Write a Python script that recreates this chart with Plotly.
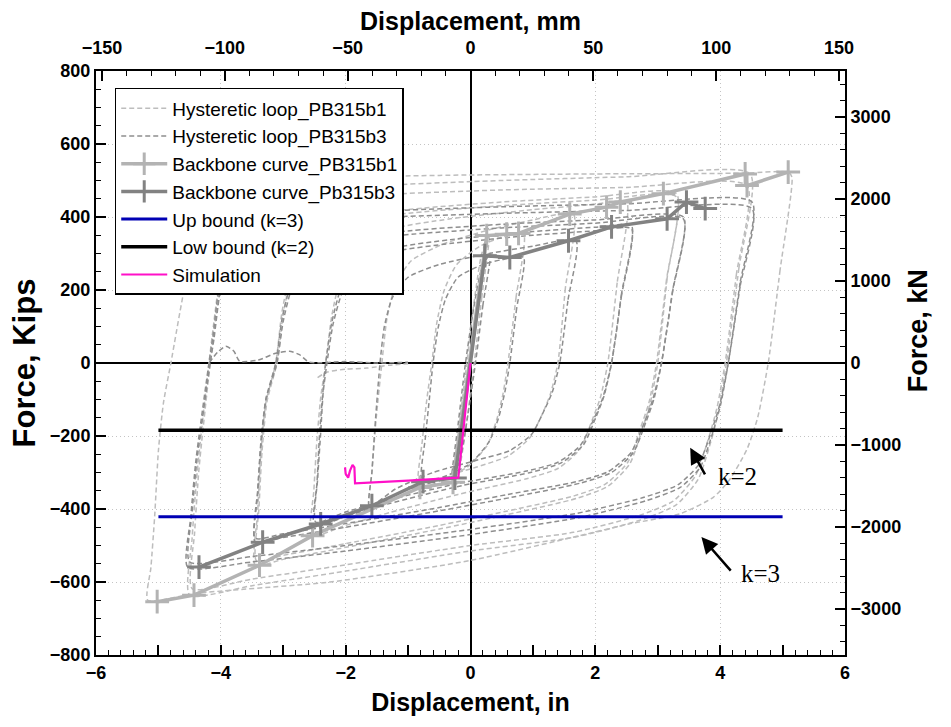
import plotly.graph_objects as go

# ---------------- data (displacement in inches, force in kips) ----------------
# Hysteretic loops, specimen PB315b1: each loop is a list of (disp, force) pairs
LOOP_B1_1 = [(0.30, 349), (0.18, 180), (0.06, 0), (-0.06, -160), (-0.18, -290), (-0.28, -327),
             (-0.18, -170), (-0.06, 0), (0.06, 170), (0.18, 300), (0.30, 349)]
LOOP_B1_2 = [(0.85, 355), (0.73, 180), (0.60, 0), (0.52, -85), (0.42, -155), (0.27, -225), (-0.05, -285),
             (-0.45, -320), (-0.83, -345), (-0.77, -210), (-0.70, -100), (-0.62, 0), (-0.54, 110),
             (-0.42, 200), (-0.22, 270), (0.15, 320), (0.50, 345), (0.85, 355)]
LOOP_B1_3 = [(1.65, 408), (1.52, 205), (1.40, 0), (1.28, -85), (1.15, -140), (0.95, -205), (0.60, -255),
             (0.10, -285), (-0.60, -320), (-1.20, -360), (-1.62, -400), (-1.58, -300), (-1.51, -150),
             (-1.42, 0), (-1.34, 120), (-1.20, 215), (-0.95, 280), (-0.45, 325), (0.30, 365),
             (1.00, 392), (1.65, 408)]
LOOP_B1_4 = [(2.50, 441), (2.35, 220), (2.20, 0), (2.08, -95), (1.95, -156), (1.75, -237), (1.40, -289),
             (0.90, -317), (-0.20, -360), (-1.30, -410), (-2.00, -445), (-2.55, -473), (-2.51, -350),
             (-2.46, -210), (-2.40, -95), (-2.32, 0), (-2.22, 132), (-2.07, 240), (-1.82, 315),
             (-1.32, 365), (-0.32, 395), (1.00, 420), (2.00, 435), (2.50, 441)]
LOOP_B1_5 = [(3.30, 464), (3.15, 232), (3.00, 0), (2.88, -110), (2.75, -183), (2.55, -277), (2.20, -338),
             (1.70, -371), (0.60, -415), (-0.50, -455), (-2.00, -505), (-3.00, -538), (-3.45, -554),
             (-3.41, -410), (-3.36, -250), (-3.28, -110), (-3.12, 0), (-3.02, 140), (-2.87, 255),
             (-2.62, 335), (-2.12, 385), (-1.12, 418), (0.50, 441), (2.00, 455), (3.30, 464)]
LOOP_B1_5B = [(3.30, 455), (3.14, 228), (2.98, 0), (2.86, -108), (2.72, -180), (2.52, -272), (2.16, -332),
              (1.66, -364), (0.55, -407), (-0.50, -445), (-2.00, -495), (-3.00, -527), (-3.43, -542),
              (-3.39, -400), (-3.34, -242), (-3.26, -105), (-3.10, 0), (-3.00, 135), (-2.85, 248),
              (-2.60, 326), (-2.10, 375), (-1.10, 408), (0.50, 431), (2.00, 446), (3.30, 455)]
LOOP_B1_6 = [(4.48, 518), (4.30, 260), (4.10, 0), (3.98, -127), (3.86, -210), (3.65, -318), (3.30, -388),
             (2.80, -426), (1.70, -476), (0.00, -515), (-2.00, -570), (-3.50, -610), (-4.50, -636),
             (-4.46, -480), (-4.38, -300), (-4.19, 0), (-4.12, 100), (-4.00, 250), (-3.82, 350),
             (-3.50, 415), (-3.00, 455), (-1.50, 485), (0.50, 500), (2.50, 510), (4.48, 518)]
LOOP_B1_6B = [(4.43, 486), (4.26, 243), (4.08, 0), (3.95, -122), (3.82, -203), (3.60, -310), (3.25, -378),
              (2.75, -415), (1.65, -464), (0.00, -500), (-2.00, -553), (-3.50, -592), (-4.46, -618),
              (-4.42, -465), (-4.35, -290), (-4.17, 0), (-4.10, 95), (-3.98, 236), (-3.80, 330),
              (-3.48, 392), (-3.00, 430), (-1.50, 460), (0.50, 474), (2.50, 481), (4.43, 486)]
LOOP_B1_7 = [(5.15, 509), (4.96, 255), (4.77, 0), (4.60, -150), (4.43, -236), (4.15, -320), (3.89, -368),
             (3.36, -413), (2.54, -441), (1.75, -473), (0.00, -541), (-2.25, -600), (-4.40, -631),
             (-5.17, -650), (-5.12, -560), (-5.06, -420), (-5.00, -240), (-4.92, -110), (-4.80, 0),
             (-4.56, 223), (-4.35, 340), (-4.00, 430), (-3.50, 480), (-2.50, 505), (-0.50, 514),
             (2.00, 518), (4.40, 520), (5.09, 523), (5.15, 509)]
LOOP_B1_TAIL = [(-2.45, -40), (-2.30, -25), (-2.00, -17), (-1.66, -14), (-1.30, -6), (-1.00, -2)]

# Hysteretic loops, specimen PB315b3
LOOP_B3_1 = [(0.32, 300), (0.20, 160), (0.08, 0), (-0.04, -140), (-0.16, -260), (-0.30, -318),
             (-0.20, -170), (-0.08, 0), (0.05, 150), (0.18, 260), (0.32, 300)]
LOOP_B3_2 = [(0.85, 290), (0.74, 150), (0.63, 0), (0.55, -80), (0.45, -150), (0.30, -215), (0.00, -275),
             (-0.40, -310), (-0.78, -333), (-0.72, -200), (-0.66, -100), (-0.60, 0), (-0.52, 95),
             (-0.40, 175), (-0.20, 235), (0.20, 270), (0.50, 283), (0.85, 290)]
LOOP_B3_3 = [(1.69, 335), (1.56, 170), (1.43, 0), (1.31, -80), (1.18, -130), (0.98, -195), (0.63, -240),
             (0.13, -265), (-0.60, -300), (-1.20, -345), (-1.62, -393), (-1.58, -300), (-1.52, -150),
             (-1.45, 0), (-1.38, 100), (-1.25, 180), (-1.00, 235), (-0.50, 270), (0.30, 300),
             (1.00, 320), (1.69, 335)]
LOOP_B3_4 = [(2.58, 376), (2.42, 190), (2.26, 0), (2.14, -90), (2.01, -148), (1.81, -224), (1.46, -273),
             (0.96, -300), (-0.14, -336), (-1.30, -385), (-2.00, -420), (-2.50, -448), (-2.46, -330),
             (-2.42, -200), (-2.37, -90), (-2.32, 0), (-2.22, 113), (-2.07, 207), (-1.82, 270),
             (-1.32, 312), (-0.32, 338), (1.00, 360), (2.00, 372), (2.58, 376)]
LOOP_B3_4B = [(2.58, 368), (2.42, 185), (2.26, 0), (2.12, -95), (1.98, -152), (1.76, -226), (1.40, -272),
              (0.90, -296), (-0.20, -330), (-1.30, -375), (-2.00, -408), (-2.48, -436), (-2.45, -320),
              (-2.40, -190), (-2.36, -80), (-2.30, 0), (-2.20, 108), (-2.04, 200), (-1.78, 262),
              (-1.28, 303), (-0.30, 328), (1.00, 350), (2.00, 362), (2.58, 368)]
LOOP_B3_5 = [(3.41, 400), (3.24, 200), (3.06, 0), (2.94, -98), (2.81, -162), (2.61, -245), (2.26, -300),
             (1.76, -329), (0.66, -368), (-0.50, -405), (-2.00, -450), (-3.00, -478), (-3.45, -491),
             (-3.41, -360), (-3.36, -220), (-3.28, -100), (-3.12, 0), (-3.02, 120), (-2.87, 220),
             (-2.62, 288), (-2.12, 332), (-1.12, 360), (0.50, 380), (2.00, 392), (3.41, 400)]
LOOP_B3_5B = [(3.41, 395), (3.24, 198), (3.06, 0), (2.92, -100), (2.78, -165), (2.57, -246), (2.20, -298),
              (1.70, -325), (0.60, -360), (-0.50, -396), (-2.00, -440), (-3.00, -468), (-3.45, -480),
              (-3.41, -350), (-3.35, -210), (-3.27, -95), (-3.10, 0), (-3.00, 115), (-2.85, 212),
              (-2.60, 280), (-2.10, 322), (-1.10, 350), (0.50, 370), (2.00, 383), (3.41, 395)]
LOOP_B3_6 = [(4.51, 441), (4.32, 220), (4.13, 0), (4.01, -112), (3.89, -186), (3.68, -286), (3.36, -341),
             (2.82, -377), (1.75, -423), (0.00, -470), (-2.00, -515), (-3.50, -545), (-4.53, -560),
             (-4.48, -420), (-4.40, -268), (-4.19, 0), (-4.13, 68), (-4.02, 214), (-3.85, 300),
             (-3.55, 355), (-3.00, 392), (-1.50, 415), (0.50, 428), (2.50, 436), (4.51, 441)]
LOOP_B3_6B = [(4.51, 423), (4.32, 210), (4.13, 0), (4.00, -110), (3.87, -182), (3.65, -280), (3.32, -334),
              (2.78, -368), (1.70, -412), (0.00, -456), (-2.00, -500), (-3.50, -530), (-4.50, -545),
              (-4.46, -410), (-4.38, -260), (-4.17, 0), (-4.11, 66), (-4.00, 206), (-3.83, 290),
              (-3.52, 342), (-3.00, 376), (-1.50, 398), (0.50, 410), (2.50, 418), (4.51, 423)]
LOOP_B3_TAIL = [(-4.19, 0), (-4.05, 30), (-3.92, 46), (-3.79, 32), (-3.70, 5), (-3.40, 8), (-3.12, 27),
                (-2.90, 32), (-2.74, 23), (-2.58, 2), (-2.00, 4), (-1.50, 0), (-1.00, 2)]

B1_LOOPS = [LOOP_B1_1, LOOP_B1_2, LOOP_B1_3, LOOP_B1_4, LOOP_B1_5, LOOP_B1_5B,
            LOOP_B1_6, LOOP_B1_6B, LOOP_B1_7, LOOP_B1_TAIL]
B3_LOOPS = [LOOP_B3_1, LOOP_B3_2, LOOP_B3_3, LOOP_B3_4, LOOP_B3_4B, LOOP_B3_5,
            LOOP_B3_5B, LOOP_B3_6, LOOP_B3_6B, LOOP_B3_TAIL]

# Backbone curves
BB_B1_X = [-5.02, -4.43, -3.38, -2.53, -0.81, -0.28, 0.26, 0.58, 0.77, 1.59, 2.18, 2.40, 3.09, 4.40, 4.43, 5.09]
BB_B1_F = [-654, -636, -554, -473, -341, -327, 349, 353, 355, 408, 427, 441, 464, 518, 486, 523]
BB_B3_X = [-4.35, -3.33, -2.40, -1.58, -0.76, -0.25, 0.23, 0.63, 1.57, 2.26, 3.15, 3.46, 3.76]
BB_B3_F = [-559, -491, -441, -391, -325, -315, 294, 289, 335, 373, 395, 441, 423]

# Strength bounds
BOUND_X = [-5.0, 5.0]
UP_BOUND_K3 = -421
LOW_BOUND_K2 = -184

# Simulation
SIM_X = [0.0, -0.195, -1.00, -1.85, -1.86, -1.89, -1.93, -1.96, -2.00, -2.01]
SIM_F = [0, -314, -322, -330, -286, -279, -295, -314, -304, -286]

# Axis ticks
X_IN_LABELS = [-6, -4, -2, 0, 2, 4, 6]
X_IN_ODD = [-5, -3, -1, 1, 3, 5]
Y_KIPS_TICKS = [-800, -600, -400, -200, 0, 200, 400, 600, 800]
X_MM_TICKS = [-150, -100, -50, 0, 50, 100, 150]
Y_KN_TICKS = [-3000, -2000, -1000, 0, 1000, 2000, 3000]
IN_TO_MM = 25.4
KIP_TO_KN = 4.44822

# ---------------- styling ----------------
LIGHT_LOOP = "#bdbdbd"
DARK_LOOP = "#8e8e8e"
LIGHT_BB = "#b3b3b3"
DARK_BB = "#828282"
GRID = "#c4c4c4"
FONT = "Liberation Sans, Arial, sans-serif"

fig = go.Figure()


def add_loops(loops, color, name):
    for i, loop in enumerate(loops):
        fig.add_trace(go.Scatter(
            x=[p[0] for p in loop], y=[p[1] for p in loop], mode="lines",
            line=dict(color=color, width=1.5, dash="5px,3px", shape="spline", smoothing=0.6),
            name=name, legendgroup=name, showlegend=(i == 0), hoverinfo="skip"))


add_loops(B1_LOOPS, LIGHT_LOOP, "Hysteretic loop_PB315b1")
add_loops(B3_LOOPS, DARK_LOOP, "Hysteretic loop_PB315b3")

fig.add_trace(go.Scatter(
    x=BB_B1_X, y=BB_B1_F, mode="lines+markers", name="Backbone curve_PB315b1",
    line=dict(color=LIGHT_BB, width=3.5),
    marker=dict(symbol="cross-thin", size=17, line=dict(color=LIGHT_BB, width=3))))
fig.add_trace(go.Scatter(
    x=BB_B3_X, y=BB_B3_F, mode="lines+markers", name="Backbone curve_Pb315b3",
    line=dict(color=DARK_BB, width=3.5),
    marker=dict(symbol="cross-thin", size=17, line=dict(color=DARK_BB, width=3))))

fig.add_trace(go.Scatter(
    x=BOUND_X, y=[UP_BOUND_K3] * len(BOUND_X), mode="lines", name="Up bound (k=3)",
    line=dict(color="#0000b4", width=3)))
fig.add_trace(go.Scatter(
    x=BOUND_X, y=[LOW_BOUND_K2] * len(BOUND_X), mode="lines", name="Low bound (k=2)",
    line=dict(color="#000000", width=3.5)))
fig.add_trace(go.Scatter(
    x=SIM_X, y=SIM_F, mode="lines", name="Simulation",
    line=dict(color="#ff10c8", width=2.2)))

# empty traces so the secondary scales are instantiated
fig.add_trace(go.Scatter(x=[None], y=[None], xaxis="x2", yaxis="y2", showlegend=False, hoverinfo="skip"))
fig.add_trace(go.Scatter(x=[None], y=[None], xaxis="x3", yaxis="y", showlegend=False, hoverinfo="skip"))

tickfont = dict(family=FONT, size=18, color="black", weight="bold")
titlefont = dict(family=FONT, size=25, color="black", weight="bold")
minor_common = dict(ticks="inside", ticklen=5, tickwidth=1.2, tickcolor="black", showgrid=False)

fig.update_layout(
    template="none",
    width=951, height=727,
    margin=dict(l=96, r=106, t=71, b=72),
    paper_bgcolor="white", plot_bgcolor="white",
    font=dict(family=FONT, color="black"),
    showlegend=True,
    legend=dict(x=0.025, y=0.971, xanchor="left", yanchor="top",
                bgcolor="white", bordercolor="black", borderwidth=1.5,
                font=dict(family=FONT, size=19, color="black"),
                itemwidth=46, tracegroupgap=0),
    xaxis=dict(range=[-6, 6], tickmode="array", tickvals=X_IN_LABELS,
               ticks="inside", ticklen=10, tickwidth=1.5, tickcolor="black",
               minor=dict(dtick=0.2, **minor_common),
               showline=True, linewidth=2, linecolor="black",
               showgrid=True, gridcolor=GRID, griddash="1px,3px", gridwidth=1,
               zeroline=True, zerolinecolor="black", zerolinewidth=1.5,
               tickfont=tickfont,
               title=dict(text="Displacement, in", font=titlefont, standoff=12)),
    xaxis3=dict(range=[-6, 6], overlaying="x", anchor="y", side="bottom",
                tickmode="array", tickvals=X_IN_ODD, ticks="inside", ticklen=10, tickwidth=1.5,
                tickcolor="black", showticklabels=False, showgrid=False, zeroline=False, showline=False),
    yaxis=dict(range=[-800, 800], tickmode="array", tickvals=Y_KIPS_TICKS,
               ticks="inside", ticklen=10, tickwidth=1.5, tickcolor="black",
               minor=dict(dtick=50, **minor_common),
               showline=True, linewidth=2, linecolor="black",
               showgrid=True, gridcolor=GRID, griddash="1px,3px", gridwidth=1,
               zeroline=True, zerolinecolor="black", zerolinewidth=1.5,
               tickfont=tickfont,
               title=dict(text="Force, Kips", font=dict(family=FONT, size=31, color="black", weight="bold"),
                          standoff=5)),
    xaxis2=dict(range=[-6 * IN_TO_MM, 6 * IN_TO_MM], overlaying="x", anchor="y2", side="top",
                tickmode="array", tickvals=X_MM_TICKS,
                ticks="inside", ticklen=10, tickwidth=1.5, tickcolor="black",
                minor=dict(dtick=10, **minor_common),
                showline=True, linewidth=2, linecolor="black",
                showgrid=False, zeroline=False, tickfont=tickfont, ticklabelstandoff=8,
                title=dict(text="Displacement, mm", font=titlefont, standoff=0)),
    yaxis2=dict(range=[-800 * KIP_TO_KN, 800 * KIP_TO_KN], overlaying="y", anchor="x2", side="right",
                tickmode="array", tickvals=Y_KN_TICKS,
                ticks="inside", ticklen=10, tickwidth=1.5, tickcolor="black",
                minor=dict(dtick=200, **minor_common),
                showline=True, linewidth=2, linecolor="black",
                showgrid=False, zeroline=False, tickfont=tickfont),
)

# right-hand axis title
fig.add_annotation(x=1.12, y=0.556, xref="paper", yref="paper", text="Force, kN", textangle=-90,
                   showarrow=False, font=dict(family=FONT, size=27, color="black", weight="bold"))

# k annotations: arrows and labels
ARROWS = [((3.52, -232), (3.77, -309), "k=2", (4.27, -312)),
          ((3.70, -477), (4.19, -573), "k=3", (4.64, -577))]
for head, tail, label, pos in ARROWS:
    fig.add_annotation(x=head[0], y=head[1], ax=tail[0], ay=tail[1], xref="x", yref="y",
                       axref="x", ayref="y", text="", showarrow=True,
                       arrowhead=2, arrowsize=1.3, arrowwidth=2.5, arrowcolor="black")
    fig.add_annotation(x=pos[0], y=pos[1], xref="x", yref="y", text=label, showarrow=False,
                       font=dict(family="Liberation Serif, Times New Roman, serif", size=25, color="black"))

fig.write_html("out.html")
